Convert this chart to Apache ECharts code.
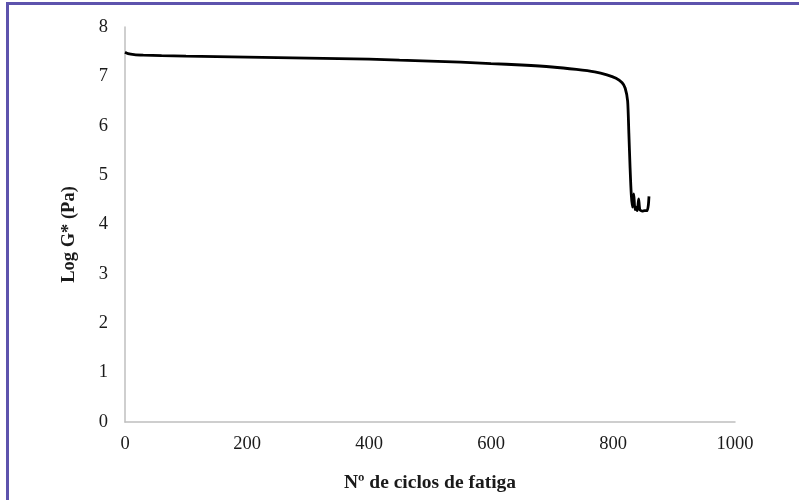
<!DOCTYPE html>
<html>
<head>
<meta charset="utf-8">
<script src="https://cdn.jsdelivr.net/npm/echarts@6/dist/echarts.min.js"></script>
<style>
html,body{margin:0;padding:0;width:799px;height:500px;overflow:hidden;background:#fff;}
#frame{position:absolute;left:6px;top:2px;width:900px;height:700px;border:3px solid #5d53ad;box-sizing:border-box;}
#chart{position:absolute;left:0;top:0;width:799px;height:500px;}
</style>
</head>
<body>
<div id="frame"></div>
<div id="chart"></div>
<script>
const cycles = [0, 5, 15, 30, 60, 100, 150, 200, 250, 300, 350, 400, 450, 500, 550, 600, 650, 700, 740, 770, 790, 805, 815, 820, 824, 826, 828, 830, 832, 834, 836, 838, 840, 842, 844, 848, 852, 856, 858, 859];
const logG = [7.49, 7.46, 7.44, 7.43, 7.42, 7.41, 7.40, 7.39, 7.38, 7.37, 7.36, 7.35, 7.33, 7.31, 7.29, 7.26, 7.23, 7.19, 7.14, 7.09, 7.03, 6.96, 6.87, 6.76, 6.50, 5.85, 5.15, 4.60, 4.35, 4.62, 4.30, 4.35, 4.28, 4.52, 4.30, 4.27, 4.28, 4.28, 4.40, 4.57];
const xTicks = [0, 200, 400, 600, 800, 1000];
const yTicks = [0, 1, 2, 3, 4, 5, 6, 7, 8];
const xTitle = 'Nº de ciclos de fatiga';
const yTitle = 'Log G* (Pa)';

const chart = echarts.init(document.getElementById('chart'), null, {renderer: 'canvas'});
const font = 'Liberation Serif';
chart.setOption({
  animation: false,
  backgroundColor: 'transparent',
  grid: {left: 125, right: 64, top: 27, bottom: 78, containLabel: false},
  xAxis: {
    type: 'value', min: xTicks[0], max: xTicks[xTicks.length - 1], interval: 200,
    name: xTitle, nameLocation: 'middle', nameGap: 51,
    nameTextStyle: {fontFamily: font, fontWeight: 'bold', fontSize: 19.5, color: '#1a1a1a'},
    axisLine: {show: true, lineStyle: {color: '#bfbfbf', width: 1.5}},
    axisTick: {show: false},
    splitLine: {show: false},
    axisLabel: {fontFamily: font, fontSize: 18.5, color: '#1a1a1a', margin: 13,
      formatter: v => String(v)}
  },
  yAxis: {
    type: 'value', min: yTicks[0], max: yTicks[yTicks.length - 1], interval: 1,
    name: yTitle, nameLocation: 'middle', nameGap: 46, nameRotate: 90,
    nameTextStyle: {fontFamily: font, fontWeight: 'bold', fontSize: 18.5, color: '#1a1a1a',
      padding: [0, 20, 0, 0]},
    axisLine: {show: true, lineStyle: {color: '#bfbfbf', width: 1.5}},
    axisTick: {show: false},
    splitLine: {show: false},
    axisLabel: {fontFamily: font, fontSize: 18.5, color: '#1a1a1a', margin: 17,
      formatter: v => String(v)}
  },
  series: [{
    type: 'line',
    data: cycles.map((c, i) => [c, logG[i]]),
    showSymbol: false,
    smooth: 0.2,
    lineStyle: {color: '#000', width: 2.8},
    itemStyle: {color: '#000'}
  }]
});
</script>
</body>
</html>
